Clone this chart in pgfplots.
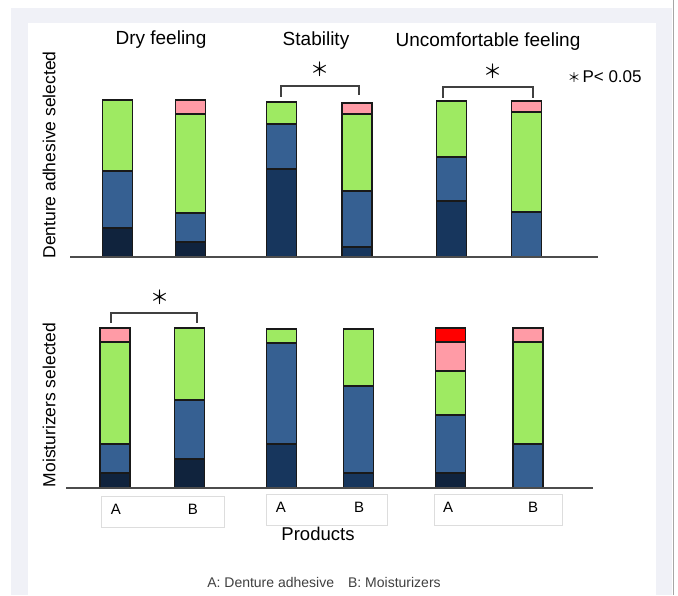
\documentclass[border=0pt]{standalone}
\usepackage{pgfplots}
\pgfplotsset{compat=1.18}
\usepackage{fontspec}
\setmainfont{Liberation Sans}
\newfontfamily\cjk{Noto Sans CJK JP}
\definecolor{navyD}{HTML}{10233D}
\definecolor{navyM}{HTML}{17365D}
\definecolor{bmid}{HTML}{366092}
\definecolor{lgreen}{HTML}{9EEA62}
\definecolor{lpink}{HTML}{FF9BA6}
\definecolor{lred}{HTML}{FF0000}
\definecolor{bggray}{HTML}{F0F1F7}
\definecolor{boxgray}{HTML}{DDDDDD}
\pgfplotsset{
  segs/.style={ybar stacked, bar width=30, draw=black!90, line width=1.1pt, mark=none},
  panel/.style={x=1pt, y=1pt, hide axis, clip=false, ymin=0, ymax=170, anchor=south west}
}
\begin{document}
\begin{tikzpicture}[x=1pt,y=1pt]
\useasboundingbox (0,0) rectangle (678,595);
\fill[white] (0,0) rectangle (678,595);
\fill[bggray] (11,0) rectangle (672,587);
\fill[white] (28,0) rectangle (656,572);
\draw[gray!70, line width=1pt] (673,0) -- (673,595);

% ---- top panel: Denture adhesive selected
\begin{axis}[panel, xmin=66, xmax=598, at={(66,338)}]
\addplot[segs, fill=navyD] coordinates {(117.5,29) (190.5,15) (281.5,0) (357,0) (451.5,0) (526.5,0)};
\addplot[segs, fill=navyM] coordinates {(117.5,0) (190.5,0) (281.5,88) (357,10) (451.5,56) (526.5,0)};
\addplot[segs, fill=bmid] coordinates {(117.5,57) (190.5,29) (281.5,45) (357,56) (451.5,44) (526.5,45)};
\addplot[segs, fill=lgreen] coordinates {(117.5,71) (190.5,99) (281.5,22) (357,77) (451.5,56) (526.5,100)};
\addplot[segs, fill=lpink] coordinates {(117.5,0) (190.5,14) (281.5,0) (357,11) (451.5,0) (526.5,11)};
\draw[gray!60!black, line width=1.2pt] (axis cs:70,0) -- (axis cs:598,0);
\end{axis}

% ---- bottom panel: Moisturizers selected
\begin{axis}[panel, xmin=66, xmax=593, at={(66,107)}]
\addplot[segs, fill=navyD] coordinates {(115,15) (189.5,29) (281.5,0) (358.5,0) (450.5,15) (528,0)};
\addplot[segs, fill=navyM] coordinates {(115,0) (189.5,0) (281.5,44) (358.5,15) (450.5,0) (528,0)};
\addplot[segs, fill=bmid] coordinates {(115,29) (189.5,59) (281.5,101) (358.5,87) (450.5,58) (528,44)};
\addplot[segs, fill=lgreen] coordinates {(115,102) (189.5,72) (281.5,14) (358.5,57) (450.5,44) (528,102)};
\addplot[segs, fill=lpink] coordinates {(115,14) (189.5,0) (281.5,0) (358.5,0) (450.5,29) (528,14)};
\addplot[segs, fill=lred] coordinates {(115,0) (189.5,0) (281.5,0) (358.5,0) (450.5,14) (528,0)};
\draw[gray!60!black, line width=1.2pt] (axis cs:66,0) -- (axis cs:593,0);
\end{axis}

% titles
\node[font=\fontsize{19}{21}\selectfont] at (161,555) {Dry feeling};
\node[font=\fontsize{19}{21}\selectfont] at (316,554) {Stability};
\node[font=\fontsize{19}{21}\selectfont] at (488,553) {Uncomfortable feeling};
\node[font=\fontsize{17}{19}\selectfont, anchor=west] at (564,518) {{\cjk\fontsize{13}{14}\selectfont ＊}\kern2pt P< 0.05};

% y labels
\node[rotate=90, font=\fontsize{17.5}{19}\selectfont] at (49,440) {Denture adhesive selected};
\node[rotate=90, font=\fontsize{17.5}{19}\selectfont] at (49,190) {Moisturizers selected};

% significance
\node[font=\cjk\fontsize{19}{20}\selectfont] at (320,526) {＊};
\node[font=\cjk\fontsize{19}{20}\selectfont] at (493,524) {＊};
\node[font=\cjk\fontsize{19}{20}\selectfont] at (160,298) {＊};
\draw[black!75, line width=1.2pt] (281,498) -- (281,509) -- (359,509) -- (359,500);
\draw[black!75, line width=1.2pt] (443,497) -- (443,508) -- (533,508) -- (533,497);
\draw[black!75, line width=1.2pt] (111,272) -- (111,282) -- (197,282) -- (197,272);

% product boxes
\draw[boxgray, line width=0.8pt] (101,68) rectangle (224,99);
\draw[boxgray, line width=0.8pt] (266,70) rectangle (387,101);
\draw[boxgray, line width=0.8pt] (434,70) rectangle (562,101);
\foreach \x/\y/\t in {116/86/A,193/86/B,281/88/A,359/88/B,448/88/A,533/88/B}
  \node[font=\fontsize{15}{17}\selectfont] at (\x,\y) {\t};
\node[font=\fontsize{18.5}{20}\selectfont] at (318,61) {Products};
\node[font=\fontsize{14}{15}\selectfont, text=black!75] at (324,13) {A: Denture adhesive\quad B: Moisturizers};
\end{tikzpicture}
\end{document}
